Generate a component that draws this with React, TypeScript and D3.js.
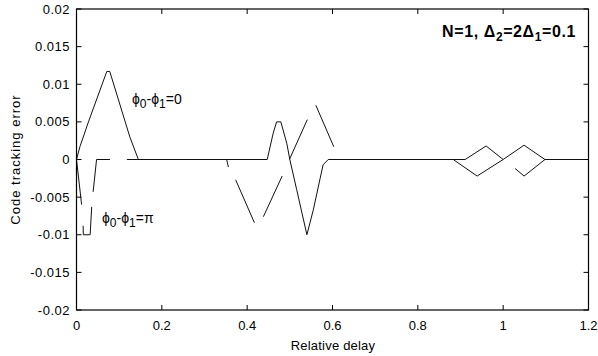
import React from "react";
import * as d3 from "d3";

// Relative delay / tracking error for the in-phase multipath case (φ0-φ1 = 0)
const inPhaseDelay = [0, 0.008, 0.028, 0.071, 0.078, 0.125, 0.145, 0.447, 0.461, 0.469, 0.479, 0.493, 0.5, 0.516, 0.54, 0.555, 0.571, 0.578, 0.59, 0.883, 0.939, 1.0, 1.049, 1.098, 1.2];
const inPhaseError = [0, 0.0017, 0.005, 0.0117, 0.0117, 0.003, 0, 0, 0.0035, 0.005, 0.005, 0.0021, 0, -0.004, -0.01, -0.0067, -0.0025, -0.0007, 0, 0, -0.0022, 0, 0.0019, 0, 0];

// Anti-phase case (φ0-φ1 = π); null marks where the loop loses lock
const antiPhaseDelay = [0, 0.012, null, 0.0155, 0.016, 0.032, 0.0356, null, 0.039, 0.047, 0.0785, null, 0.118, 0.352, 0.356, null, 0.373, 0.417, null, 0.438, 0.482, null, 0.499, 0.541, null, 0.561, 0.603, null, 0.62, 0.911, 0.96, 1.0, null, 1.028, 1.049, 1.098, 1.2];
const antiPhaseError = [0, -0.006, null, -0.0088, -0.01, -0.01, -0.0063, null, -0.0043, 0, 0, null, 0, 0, -0.001, null, -0.0027, -0.0084, null, -0.0076, -0.0022, null, 0, 0.0053, null, 0.0072, 0.0017, null, 0, 0, 0.0018, 0, null, -0.0012, -0.0022, 0, 0];

const xTicks = [0, 0.2, 0.4, 0.6, 0.8, 1, 1.2];
const xTickLabels = ["0", "0.2", "0.4", "0.6", "0.8", "1", "1.2"];
const yTicks = [0.02, 0.015, 0.01, 0.005, 0, -0.005, -0.01, -0.015, -0.02];
const yTickLabels = ["0.02", "0.015", "0.01", "0.005", "0", "-0.005", "-0.01", "-0.015", "-0.02"];

const W = 598;
const H = 356;
const left = 76.5;
const right = 588.5;
const top = 9;
const bottom = 310;
const font = "'Liberation Sans', Arial, Helvetica, sans-serif";

type Pt = { x: number; y: number | null };

function zip(xs: (number | null)[], ys: (number | null)[]): Pt[] {
  return xs.map((x, i) => ({ x: x === null ? NaN : x, y: ys[i] }));
}

export default function App() {
  const x = d3.scaleLinear().domain([0, 1.2]).range([left, right]);
  const y = d3.scaleLinear().domain([-0.02, 0.02]).range([bottom, top]);

  const line = d3
    .line<Pt>()
    .defined((d) => d.y !== null && !isNaN(d.x))
    .x((d) => x(d.x))
    .y((d) => y(d.y as number));

  const inPhasePath = line(zip(inPhaseDelay, inPhaseError)) || "";
  const antiPhasePath = line(zip(antiPhaseDelay, antiPhaseError)) || "";

  const tick = 5;

  return (
    <svg
      width={W}
      height={H}
      viewBox={`0 0 ${W} ${H}`}
      style={{ position: "absolute", left: 0, top: 0, background: "#fff" }}
      fontFamily={font}
    >
      <rect x={0} y={0} width={W} height={H} fill="#fff" />

      {/* curves */}
      <path d={inPhasePath} fill="none" stroke="#111" strokeWidth={1} />
      <path d={antiPhasePath} fill="none" stroke="#111" strokeWidth={1} />

      {/* frame */}
      <rect x={left} y={top} width={right - left} height={bottom - top} fill="none" stroke="#000" strokeWidth={1.2} />

      {/* x ticks */}
      {xTicks.map((t, i) => (
        <g key={"x" + i}>
          <line x1={x(t)} x2={x(t)} y1={bottom} y2={bottom - tick} stroke="#000" />
          <line x1={x(t)} x2={x(t)} y1={top} y2={top + tick} stroke="#000" />
          <text x={x(t)} y={330} fontSize={13} textAnchor="middle" fill="#000">
            {xTickLabels[i]}
          </text>
        </g>
      ))}

      {/* y ticks */}
      {yTicks.map((t, i) => (
        <g key={"y" + i}>
          <line x1={left} x2={left + tick} y1={y(t)} y2={y(t)} stroke="#000" />
          <line x1={right} x2={right - tick} y1={y(t)} y2={y(t)} stroke="#000" />
          <text x={70} y={y(t) + 4.5} fontSize={13} letterSpacing={0.5} textAnchor="end" fill="#000">
            {yTickLabels[i]}
          </text>
        </g>
      ))}

      {/* axis titles */}
      <text x={333} y={350} fontSize={13} letterSpacing={0.2} textAnchor="middle" fill="#000">
        Relative delay
      </text>
      <text transform={`translate(20,${(top + bottom) / 2}) rotate(-90)`} fontSize={13} letterSpacing={1} textAnchor="middle" fill="#000">
        Code tracking error
      </text>

      {/* curve annotations */}
      <text x={132} y={104} fontSize={14} fill="#000">
        ϕ<tspan fontSize={12} dy={4}>0</tspan>
        <tspan dy={-4}>-ϕ</tspan>
        <tspan fontSize={12} dy={4}>1</tspan>
        <tspan dy={-4}>=0</tspan>
      </text>
      <text x={102} y={223} fontSize={14} fill="#000">
        ϕ<tspan fontSize={12} dy={4}>0</tspan>
        <tspan dy={-4}>-ϕ</tspan>
        <tspan fontSize={12} dy={4}>1</tspan>
        <tspan dy={-4}>=π</tspan>
      </text>

      {/* case title */}
      <text x={576} y={37} fontSize={16} fontWeight="bold" letterSpacing={0.6} textAnchor="end" fill="#000">
        N=1, Δ<tspan fontSize={12} dy={4}>2</tspan>
        <tspan dy={-4}>=2Δ</tspan>
        <tspan fontSize={12} dy={4}>1</tspan>
        <tspan dy={-4}>=0.1</tspan>
      </text>
    </svg>
  );
}
